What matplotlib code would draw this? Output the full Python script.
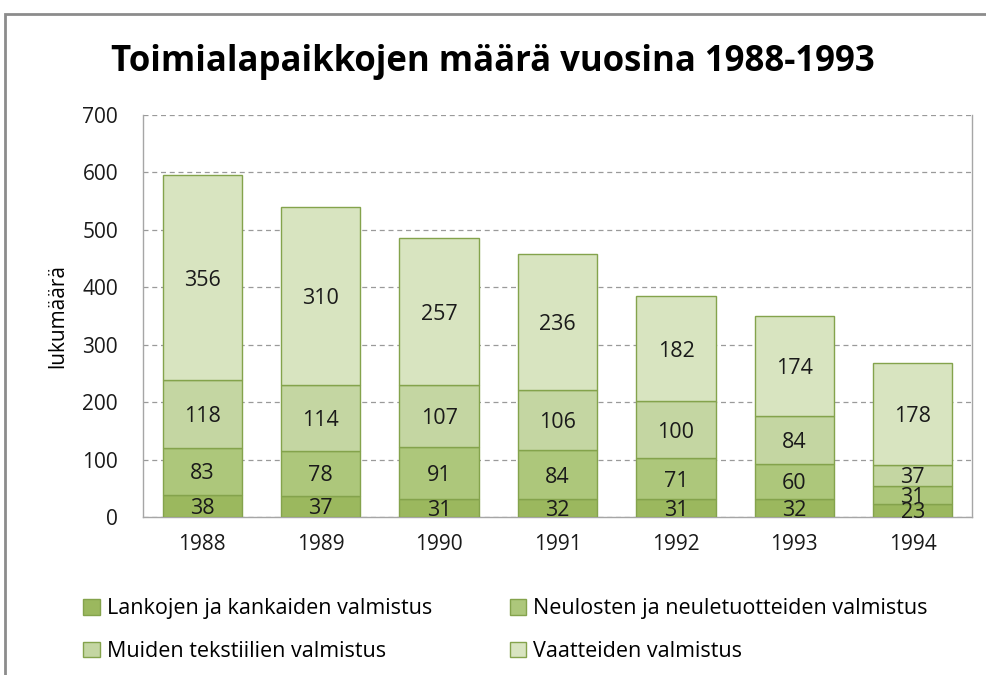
import matplotlib.pyplot as plt
from matplotlib.patches import Rectangle
import numpy as np

years = ['1988', '1989', '1990', '1991', '1992', '1993', '1994']
lankat = [38, 37, 31, 32, 31, 32, 23]
neuleet = [83, 78, 91, 84, 71, 60, 31]
muut = [118, 114, 107, 106, 100, 84, 37]
vaatteet = [356, 310, 257, 236, 182, 174, 178]

series = [
    ('Lankojen ja kankaiden valmistus', lankat, '#9bb85e'),
    ('Neulosten ja neuletuotteiden valmistus', neuleet, '#adc77b'),
    ('Muiden tekstiilien valmistus', muut, '#c4d6a2'),
    ('Vaatteiden valmistus', vaatteet, '#d8e4c0'),
]

plt.rcParams['font.family'] = ['Open Sans', 'DejaVu Sans']

fig = plt.figure(figsize=(9.86, 6.75), dpi=100)
# outer chart border
fig.patches.append(Rectangle((5 / 986, -0.01), 1.0, 1 - 14 / 675 + 0.01,
                             transform=fig.transFigure, fill=False,
                             edgecolor='#8c8c8c', linewidth=2))

ax = fig.add_axes([143 / 986, 1 - 517 / 675, (972 - 143) / 986, (517 - 115) / 675])

x = np.arange(len(years))
bottom = np.zeros(len(years))
handles = []
for name, vals, col in series:
    vals = np.array(vals)
    b = ax.bar(x, vals, width=0.67, bottom=bottom, color=col,
               edgecolor='#84a34c', linewidth=1, label=name, zorder=3)
    handles.append(b)
    for xi, v, bt in zip(x, vals, bottom):
        ax.text(xi, bt + v / 2, str(v), ha='center', va='center_baseline',
                fontsize=15.5, color='#1a1a1a', zorder=4)
    bottom += vals

ax.set_xlim(-0.5, len(years) - 0.5)
ax.set_ylim(0, 700)
ax.set_yticks(range(0, 701, 100))
ax.set_xticks(x)
ax.set_xticklabels(years)
ax.tick_params(axis='both', labelsize=15, length=0, colors='#1a1a1a')
ax.tick_params(axis='y', pad=18)
ax.tick_params(axis='x', pad=12)
ax.yaxis.grid(True, linestyle=(0, (4, 3)), color='#9a9a9a', linewidth=0.9, zorder=0)
for s in ax.spines.values():
    s.set_color('#a6a6a6')
    s.set_linewidth(1)
ax.spines['top'].set_visible(False)

ax.set_ylabel('lukumäärä', fontsize=15, labelpad=10)
fig.text(0.5, 1 - 62 / 675, 'Toimialapaikkojen määrä vuosina 1988-1993',
         ha='center', va='center', fontsize=25, fontweight='bold')

# row-wise order for the 2-column legend
order = [0, 2, 1, 3]
fig.legend(handles=[handles[i] for i in order], loc='upper left',
           bbox_to_anchor=(64 / 986, 1 - 579 / 675),
           ncol=2, frameon=False, fontsize=15.5, handlelength=0.75, handleheight=0.75,
           handletextpad=0.35, columnspacing=3.6, labelspacing=1.0)

plt.savefig('out.png', dpi=100)
